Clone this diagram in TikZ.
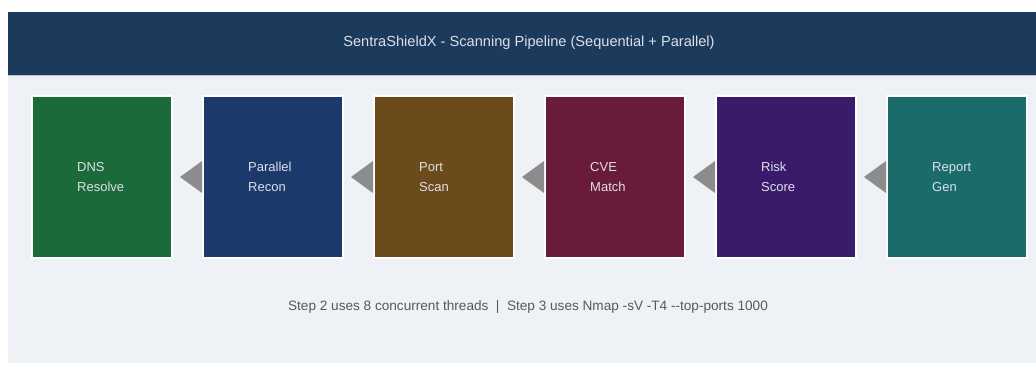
\documentclass[tikz,border=0pt]{standalone}
\usepackage{fontspec}
\setmainfont{Liberation Sans}
\usetikzlibrary{calc,positioning}
\definecolor{hdrblue}{HTML}{1B3A5C}
\definecolor{panel}{HTML}{EEF1F5}
\definecolor{dnsgreen}{HTML}{1B6B3A}
\definecolor{reconblue}{HTML}{1B3A6B}
\definecolor{portbrown}{HTML}{6B4A1B}
\definecolor{cvered}{HTML}{6B1B3A}
\definecolor{riskpurple}{HTML}{3A1B6B}
\definecolor{reportteal}{HTML}{1B6B6B}
\definecolor{arrowgray}{HTML}{8C8C8C}
\definecolor{boxtext}{HTML}{DCE0E8}
\tikzset{
	stage/.style={draw=white, line width=2pt, minimum width=140pt, minimum height=162pt, inner sep=0pt},
	stagelbl/.style={text=boxtext, font=\fontsize{13}{20}\selectfont, align=left, inner sep=0pt},
	flow/.style={fill=arrowgray, draw=none}
}
\begin{document}
		\begin{tikzpicture}[x=1pt,y=-1pt]
		\useasboundingbox[fill=white] (0,0) rectangle (1036,365);
		\fill[panel] (8,75) rectangle (1036,363);%body
		\fill[hdrblue] (8,12) rectangle (1036,75);%header
		\draw[white!70!hdrblue, line width=0.6pt] (8,75) -- (1036,75);
		\node[text=boxtext, font=\fontsize{14.6}{17}\selectfont] (title) at (529,43) {SentraShieldX - Scanning Pipeline (Sequential + Parallel)};
		
		\node[stage, fill=dnsgreen] (dns) at (102,177) {};
		\node[stage, fill=reconblue] (recon) at (273,177) {};
		\node[stage, fill=portbrown] (port) at (444,177) {};
		\node[stage, fill=cvered] (cve) at (615,177) {};
		\node[stage, fill=riskpurple] (risk) at (786,177) {};
		\node[stage, fill=reportteal] (report) at (957,177) {};
		
		\node[stagelbl, right=46pt of dns.west] (dnslbl) {DNS\\Resolve};
		\node[stagelbl, right=46pt of recon.west] (reconlbl) {Parallel\\Recon};
		\node[stagelbl, right=46pt of port.west] (portlbl) {Port\\Scan};
		\node[stagelbl, right=46pt of cve.west] (cvelbl) {CVE\\Match};
		\node[stagelbl, right=46pt of risk.west] (risklbl) {Risk\\Score};
		\node[stagelbl, right=46pt of report.west] (reportlbl) {Report\\Gen};
		
		\foreach \from/\to in {recon/dns, port/recon, cve/port, risk/cve, report/risk}
		\fill[flow] ($(\from.west)+(0,-16)$) -- ($(\from.west)+(0,16)$) -- ($(\to.east)+(7,0)$) -- cycle;%arrows
		
		\node[text=black!65, font=\fontsize{13.6}{16}\selectfont] (note) at (528,307) {Step 2 uses 8 concurrent threads \;|\; Step 3 uses Nmap -sV -T4 {-}{-}top-ports 1000};
		\end{tikzpicture}
\end{document}
